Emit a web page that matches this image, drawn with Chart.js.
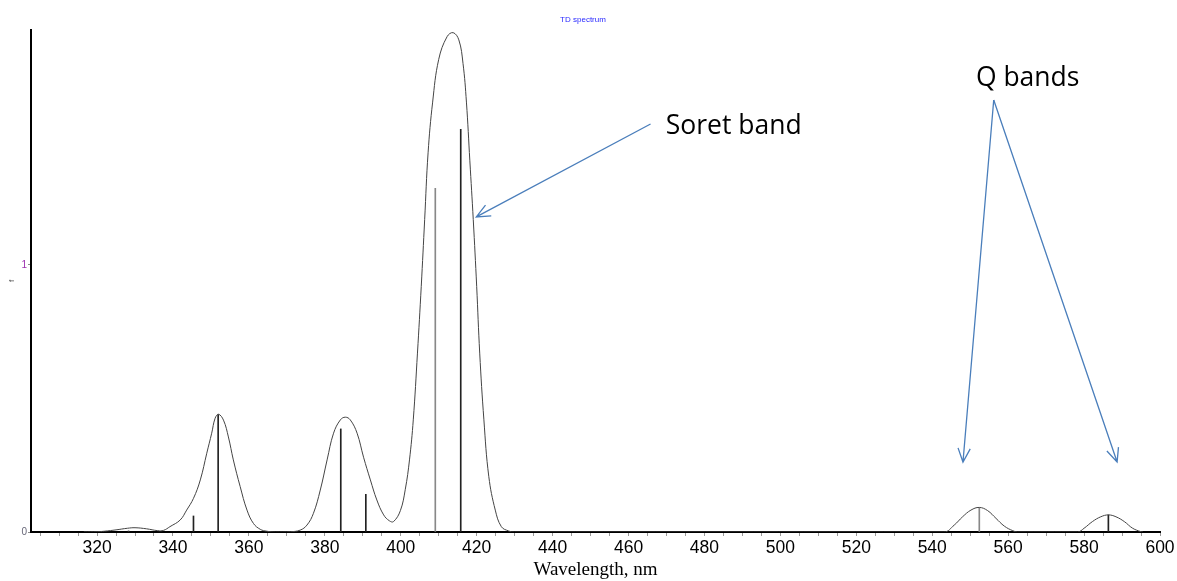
<!DOCTYPE html>
<html>
<head>
<meta charset="utf-8">
<title>TD spectrum</title>
<script src="https://cdn.jsdelivr.net/npm/chart.js@4/dist/chart.umd.min.js"></script>
<style>
    body { margin: 0; background: #fff; }
    #wrap { width: 1177px; height: 581px; }
</style>
</head>
<body>
<div id="wrap"><canvas id="spectrum" width="1177" height="581"></canvas></div>
<script>
// envelope (broadened spectrum)
const envWavelength = [316.5, 320, 322, 325, 328, 330, 333, 336, 337.5, 339.2, 341.9, 343.6, 345.4, 347.2, 348.9,
    350.2, 351.1, 352.0, 353.3, 354.6, 355.9, 357.7, 359.5, 361.2, 363.0, 364.7, 367,
    370.9, 373.5, 375.3, 377.0, 378.8, 380.6, 382.3, 384.1, 385.4, 386.7, 388.5, 390.2, 392.0, 393.7, 395.5, 397.0, 398.1,
    399.9, 401.2, 402.3, 403.3, 404.4, 405.4, 406.3, 407.2, 408.4, 410.0, 412.2, 413.8, 415.3, 416.4, 417.3, 418.2,
    419.1, 420.0, 420.8, 421.9, 423.2, 424.9, 426.5, 428.4, 430,
    543.1, 545.8, 548.0, 550.2, 552.4, 554.6, 556.8, 559.0, 561.2, 562.5,
    578.3, 580.0, 582.2, 584.4, 586.4, 588.4, 590.6, 592.8, 595.0, 595.5];
const envStrength = [0, 0.001, 0.003, 0.008, 0.014, 0.016, 0.012, 0.005, 0.006, 0.02, 0.045, 0.082, 0.126, 0.195, 0.295,
    0.37, 0.426, 0.441, 0.419, 0.356, 0.27, 0.17, 0.082, 0.032, 0.01, 0.003, 0,
    0.001, 0.007, 0.026, 0.07, 0.157, 0.27, 0.37, 0.42, 0.43, 0.42, 0.37, 0.28, 0.195, 0.12, 0.064, 0.042, 0.039,
    0.08, 0.16, 0.27, 0.42, 0.67, 0.92, 1.17, 1.42, 1.61, 1.77, 1.855, 1.87, 1.843, 1.755, 1.61, 1.39,
    1.17, 0.92, 0.67, 0.42, 0.207, 0.082, 0.02, 0.004, 0,
    0, 0.026, 0.057, 0.082, 0.092, 0.08, 0.051, 0.022, 0.005, 0,
    0, 0.014, 0.039, 0.057, 0.064, 0.057, 0.039, 0.014, 0.001, 0];

// individual transitions (sticks)
const stickWavelength = [328.3, 345.4, 351.9, 384.2, 390.8, 409.1, 415.8, 552.4, 586.4];
const stickStrength = [0.004, 0.06, 0.44, 0.386, 0.141, 1.287, 1.508, 0.09, 0.064];

const xTickLabels = [320, 340, 360, 380, 400, 420, 440, 460, 480, 500, 520, 540, 560, 580, 600];
const yTickLabels = [0, 1];

const stickColors = ["#333", "#222", "#222", "#222", "#222", "#888", "#222", "#888", "#222"];
const arrowColor = "#4a7ebb";

const envPoints = envWavelength.map((x, i) => ({ x: x, y: envStrength[i] }));
const stickPoints = stickWavelength.map((x, i) => ({ x: x, y: stickStrength[i] }));

// title, annotation texts and arrows (positioned in data coordinates)
const overlayPlugin = {
    id: "overlay",
    afterDraw(chart) {
        const ctx = chart.ctx;
        const xs = chart.scales.x;
        const ys = chart.scales.y;
        const px = v => xs.getPixelForValue(v);
        const py = v => ys.getPixelForValue(v);

        ctx.save();
        ctx.fillStyle = "#2a2aff";
        ctx.font = "8px 'Liberation Sans', Arial, sans-serif";
        ctx.textAlign = "center";
        ctx.textBaseline = "middle";
        ctx.fillText("TD spectrum", 583, 20);

        function arrow(x1, y1, x2, y2) {
            const a = Math.atan2(y2 - y1, x2 - x1);
            const len = 15, spread = 0.42;
            ctx.beginPath();
            ctx.moveTo(x1, y1);
            ctx.lineTo(x2, y2);
            ctx.moveTo(x2 - len * Math.cos(a - spread), y2 - len * Math.sin(a - spread));
            ctx.lineTo(x2, y2);
            ctx.lineTo(x2 - len * Math.cos(a + spread), y2 - len * Math.sin(a + spread));
            ctx.stroke();
        }

        ctx.strokeStyle = arrowColor;
        ctx.lineWidth = 1.3;
        arrow(px(465.8), py(1.528), px(419.9), py(1.18));
        arrow(px(556.2), py(1.618), px(548.1), py(0.262));
        arrow(px(556.2), py(1.618), px(588.7), py(0.262));

        ctx.fillStyle = "#000";
        ctx.font = "26.5px 'Open Sans', sans-serif";
        ctx.textAlign = "left";
        ctx.fillText("Soret band", px(469.8), py(1.52));
        ctx.fillText("Q bands", px(551.5), py(1.697));
        ctx.restore();
    }
};

new Chart(document.getElementById("spectrum"), {
    type: "line",
    data: {
        datasets: [
            {
                type: "line",
                data: envPoints,
                borderColor: "#444",
                borderWidth: 1,
                pointRadius: 0,
                tension: 0.4,
                fill: false
            },
            {
                type: "bar",
                data: stickPoints,
                backgroundColor: stickColors,
                borderWidth: 0,
                barThickness: 1
            }
        ]
    },
    options: {
        responsive: false,
        devicePixelRatio: 1,
        animation: false,
        layout: { padding: { top: 30, right: 17, left: 0, bottom: 0 } },
        plugins: {
            legend: { display: false },
            tooltip: { enabled: false }
        },
        scales: {
            x: {
                type: "linear",
                min: 302.6,
                max: 600,
                offset: false,
                afterFit(scale) { scale.height = 49; },
                afterBuildTicks(scale) {
                    const t = [];
                    for (let v = 305; v <= 600; v += 5) t.push({ value: v });
                    scale.ticks = t;
                },
                ticks: {
                    autoSkip: false,
                    maxRotation: 0,
                    padding: 2,
                    color: "#000",
                    font: { family: "'Liberation Sans', Arial, sans-serif", size: 17.5 },
                    callback: v => xTickLabels.includes(v) ? String(v) : ""
                },
                grid: {
                    offset: false,
                    drawOnChartArea: false,
                    drawTicks: true,
                    tickLength: 4,
                    color: "#999"
                },
                border: { display: true, color: "#000", width: 2 },
                title: {
                    display: true,
                    text: "Wavelength, nm",
                    color: "#000",
                    padding: { top: 0, bottom: 0 },
                    font: { family: "'Liberation Serif', 'Times New Roman', serif", size: 19 }
                }
            },
            y: {
                min: 0,
                max: 1.88,
                afterFit(scale) { scale.width = 31; },
                afterBuildTicks(scale) {
                    scale.ticks = yTickLabels.map(v => ({ value: v }));
                },
                ticks: {
                    padding: 1,
                    color: ctx => ctx.index === 1 ? "#9b2fae" : "#667",
                    font: { family: "'Liberation Sans', Arial, sans-serif", size: 10 }
                },
                grid: {
                    drawOnChartArea: false,
                    drawTicks: true,
                    tickLength: 3,
                    color: "#888"
                },
                border: { display: true, color: "#000", width: 2 },
                title: {
                    display: true,
                    text: "f",
                    color: "#555",
                    padding: { top: 7, bottom: 0 },
                    font: { family: "'Liberation Sans', Arial, sans-serif", size: 8 }
                }
            }
        }
    },
    plugins: [overlayPlugin]
});
</script>
</body>
</html>
